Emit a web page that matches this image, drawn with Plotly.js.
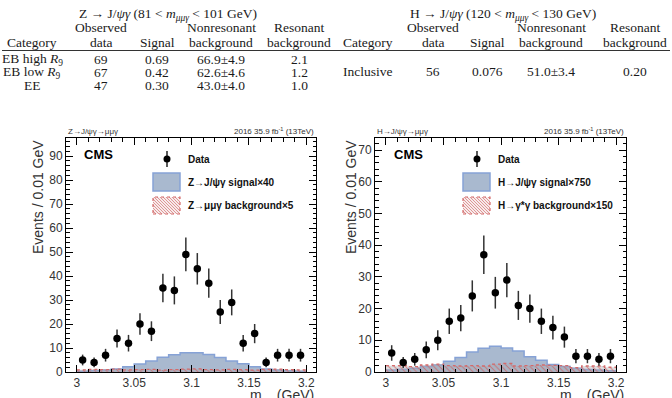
<!DOCTYPE html>
<html><head><meta charset="utf-8">
<script src="https://cdn.plot.ly/plotly-3.0.1.min.js"></script>
<style>html,body{margin:0;padding:0;background:#fff}#chart{width:672px;height:398px}</style>
</head><body><div id="chart"></div>
<script>
// ---------- data ----------
const binCenters = [3.005,3.015,3.025,3.035,3.045,3.055,3.065,3.075,3.085,3.095,3.105,3.115,3.125,3.135,3.145,3.155,3.165,3.175,3.185,3.195];
const binEdges = [3.00,3.01,3.02,3.03,3.04,3.05,3.06,3.07,3.08,3.09,3.10,3.11,3.12,3.13,3.14,3.15,3.16,3.17,3.18,3.19,3.20];

const zData   = [5,4,7,14,12,20,17,35,34,49,43,37,25,29,12,16,4,7,7,7];
const zErr    = [2.24,2,2.65,3.74,3.46,4.47,4.12,5.92,5.83,7,6.56,6.08,5,5.39,3.46,4,2,2.65,2.65,2.65];
const zSignal = [0.3,0.5,0.8,1.3,2.2,3.3,4.6,6.1,7.2,8.0,8.0,7.3,6.0,4.6,3.4,2.2,1.3,0.8,0.5,0.3];
const zBkg    = [0.9,1.1,1.0,1.2,0.9,1.0,1.1,0.8,1.0,1.2,1.3,1.0,0.9,1.1,1.0,0.8,1.1,1.2,1.0,0.9];

const hData   = [6,3,4,7,10,16,17,24,37,25,29,21,20,16,14,11,5,5,4,5];
const hErr    = [2.45,1.73,2,2.65,3.16,4,4.12,4.9,6.08,5,5.39,4.58,4.47,4,3.74,3.32,2.24,2.24,2,2.24];
const hSignal = [0.6,0.9,1.2,1.7,2.2,3.4,4.6,6.3,7.5,8.1,7.6,6.6,4.8,3.7,2.4,1.7,1.2,0.8,0.6,0.4];
const hBkg    = [2.0,2.0,1.7,2.2,2.5,2.0,1.9,2.0,1.9,2.5,2.7,1.9,2.0,2.2,2.1,2.0,1.4,1.9,1.9,1.5];

// table contents
const tableZTitle = "Z → J/<i>ψγ</i> (81 &lt; <i>m</i><sub><i>μμγ</i></sub> &lt; 101 GeV)";
const tableHTitle = "H → J/<i>ψγ</i> (120 &lt; <i>m</i><sub><i>μμγ</i></sub> &lt; 130 GeV)";
const headTop = ["", "Observed", "", "Nonresonant", "Resonant"];
const headBot = ["Category", "data", "Signal", "background", "background"];
const zRows = [
  ["EB high <i>R</i><sub>9</sub>", "69", "0.69", "66.9±4.9", "2.1"],
  ["EB low <i>R</i><sub>9</sub>", "67", "0.42", "62.6±4.6", "1.2"],
  ["EE", "47", "0.30", "43.0±4.0", "1.0"]
];
const hRows = [["Inclusive", "56", "0.076", "51.0±3.4", "0.20"]];

// ---------- geometry helpers (pixel -> paper) ----------
const ML = 66, MR = 46, MT = 138, MB = 26, W = 672, H = 398;
const PW = W - ML - MR, PH = H - MT - MB;
const px = x => (x - ML) / PW;
const py = y => (H - MB - y) / PH;

const serif = {family: "Liberation Serif, Times New Roman, serif", size: 13.5, color: "#1a1a1a"};
const sans = "Liberation Sans, Arial, sans-serif";

const ann = [];
function txt(x, y, t, font, xanchor, extra) {
  ann.push(Object.assign({xref: "paper", yref: "paper", x: px(x), y: py(y), text: t, showarrow: false,
    xanchor: xanchor || "center", yanchor: "middle", font: font}, extra || {}));
}

// tables
const zCols = [32, 101, 157, 221, 299];
const hCols = [368, 433, 487, 551, 635];
txt(168, 14, tableZTitle, serif);
txt(503, 14, tableHTitle, serif);
headTop.forEach((t, i) => { if (t) { txt(zCols[i], 27.5, t, serif); txt(hCols[i], 27.5, t, serif); } });
headBot.forEach((t, i) => { txt(zCols[i], 42.5, t, serif); txt(hCols[i], 42.5, t, serif); });
const zRowY = [59, 72.5, 86];
zRows.forEach((r, j) => r.forEach((t, i) => txt(zCols[i], zRowY[j], t, serif)));
hRows.forEach((r, j) => r.forEach((t, i) => txt(hCols[i], 72, t, serif)));

// plot labels
const small = {family: sans, size: 8, color: "#333"};
txt(66, 131, "Z→J/ψγ→μμγ", small, "left");
txt(316, 131, "2016 35.9 fb<sup>-1</sup> (13TeV)", small, "right");
txt(375, 131, "H→J/ψγ→μμγ", small, "left");
txt(626, 131, "2016 35.9 fb<sup>-1</sup> (13TeV)", small, "right");
const cmsF = {family: sans, size: 13, color: "#000"};
txt(82, 154, "<b>CMS</b>", cmsF, "left");
txt(392, 154, "<b>CMS</b>", cmsF, "left");
const axF = {family: sans, size: 14, color: "#333"};
ann.push({xref: "paper", yref: "paper", x: px(38), y: 1, text: "Events / 0.01 GeV", showarrow: false, textangle: -90, xanchor: "center", yanchor: "top", font: axF});
ann.push({xref: "paper", yref: "paper", x: px(351), y: 1, text: "Events / 0.01 GeV", showarrow: false, textangle: -90, xanchor: "center", yanchor: "top", font: axF});
ann.push({xref: "paper", yref: "paper", x: px(316), y: py(385), text: "m<sub>μμ</sub> (GeV)", showarrow: false, xanchor: "right", yanchor: "top", font: axF});
ann.push({xref: "paper", yref: "paper", x: px(626), y: py(385), text: "m<sub>μμ</sub> (GeV)", showarrow: false, xanchor: "right", yanchor: "top", font: axF});

// legends
const legF = {family: sans, size: 10, color: "#111"};
const shapes = [];
shapes.push({type: "line", xref: "paper", yref: "paper", x0: px(2), x1: px(670), y0: py(50.5), y1: py(50.5), line: {color: "#333", width: 1}});
function legend(mx, bx0, bx1, labels) {
  shapes.push({type: "line", xref: "paper", yref: "paper", x0: px(mx), x1: px(mx), y0: py(151), y1: py(167), line: {color: "#222", width: 1.5}});
  shapes.push({type: "circle", xref: "paper", yref: "paper", x0: px(mx - 3.5), x1: px(mx + 3.5), y0: py(155.5), y1: py(162.5), fillcolor: "#000", line: {color: "#000", width: 0}});
  txt(mx + 19, 159, "<b>Data</b>", legF, "left");
  shapes.push({type: "rect", xref: "paper", yref: "paper", x0: px(bx0), x1: px(bx1), y0: py(191), y1: py(173), fillcolor: "#a9b9cf", line: {color: "#86a2d6", width: 1.5}});
  txt(bx1 + 6, 182, labels[0], legF, "left");
  shapes.push({type: "rect", xref: "paper", yref: "paper", x0: px(bx0), x1: px(bx1), y0: py(214), y1: py(197), fillcolor: "rgba(240,215,215,0.5)", line: {color: "#d46a6a", width: 1.2, dash: "dot"}});
  let path = "";
  const y0 = 197, y1 = 214;
  for (let s = -20; s < (bx1 - bx0) + 20; s += 3) {
    let xa = bx0 + s, ya = y0, xb = bx0 + s + (y1 - y0), yb = y1;
    if (xa < bx0) { ya += (bx0 - xa); xa = bx0; }
    if (xb > bx1) { yb -= (xb - bx1); xb = bx1; }
    if (ya >= yb) continue;
    path += `M${px(xa)},${py(ya)}L${px(xb)},${py(yb)}`;
  }
  shapes.push({type: "path", xref: "paper", yref: "paper", path: path, line: {color: "rgba(205,90,90,0.75)", width: 0.8}});
  txt(bx1 + 6, 205, labels[1], legF, "left");
}
legend(167, 153, 180, ["<b>Z→J/ψγ signal×40</b>", "<b>Z→μμγ background×5</b>"]);
legend(477, 463, 490, ["<b>H→J/ψγ signal×750</b>", "<b>H→γ*γ background×150</b>"]);

// ---------- traces ----------
const stepY = v => v.concat([v[v.length - 1]]);
function sigTrace(v, xa, ya) {
  return {x: binEdges, y: stepY(v), xaxis: xa, yaxis: ya, type: "scatter", mode: "lines",
    line: {shape: "hv", color: "#86a2d6", width: 1.5}, fill: "tozeroy", fillcolor: "#a9b9cf", hoverinfo: "skip"};
}
function bkgTrace(v, xa, ya) {
  return {x: binEdges, y: stepY(v), xaxis: xa, yaxis: ya, type: "scatter", mode: "lines",
    line: {shape: "hv", color: "#d46a6a", width: 1.3, dash: "dot"}, fill: "tozeroy",
    fillcolor: "rgba(170,170,175,0.4)",
    fillpattern: {shape: "\\", fgcolor: "rgba(205,90,90,0.7)", bgcolor: "rgba(170,170,175,0.4)", size: 4, solidity: 0.25},
    hoverinfo: "skip"};
}
function dataTrace(v, e, xa, ya) {
  return {x: binCenters, y: v, xaxis: xa, yaxis: ya, type: "scatter", mode: "markers",
    marker: {color: "#000", size: 7.5},
    error_y: {type: "data", array: e, symmetric: true, color: "#333", thickness: 1.5, width: 0}};
}
const traces = [
  sigTrace(zSignal, "x", "y"), bkgTrace(zBkg, "x", "y"), dataTrace(zData, zErr, "x", "y"),
  sigTrace(hSignal, "x2", "y2"), bkgTrace(hBkg, "x2", "y2"), dataTrace(hData, hErr, "x2", "y2")
];

function xax(dom) {
  return {domain: dom, range: [2.9905, 3.2085], tick0: 3, dtick: 0.05, ticks: "inside", ticklen: 7, tickcolor: "#000",
    showline: true, linecolor: "#000", linewidth: 1, mirror: "allticks", showgrid: false, zeroline: false,
    tickfont: {family: sans, size: 12, color: "#333"},
    minor: {dtick: 0.01, ticks: "inside", ticklen: 3.5, tickcolor: "#000", showgrid: false}};
}
function yax(anchor, max) {
  return {domain: [0, 1], anchor: anchor, range: [0, max], dtick: 10, ticks: "inside", ticklen: 7, tickcolor: "#000",
    showline: true, linecolor: "#000", linewidth: 1, mirror: "allticks", showgrid: false, zeroline: false,
    tickfont: {family: sans, size: 12, color: "#333"},
    minor: {dtick: 2, ticks: "inside", ticklen: 3.5, tickcolor: "#000", showgrid: false}};
}
const layout = {
  width: W, height: H, margin: {l: ML, r: MR, t: MT, b: MB},
  paper_bgcolor: "#fff", plot_bgcolor: "#fff", showlegend: false,
  xaxis: Object.assign(xax([0, 250 / PW]), {anchor: "y"}),
  yaxis: yax("x", 97.5),
  xaxis2: Object.assign(xax([309 / PW, 1]), {anchor: "y2"}),
  yaxis2: yax("x2", 73.8),
  annotations: ann, shapes: shapes
};
Plotly.newPlot("chart", traces, layout, {displayModeBar: false, staticPlot: true});
</script></body></html>
